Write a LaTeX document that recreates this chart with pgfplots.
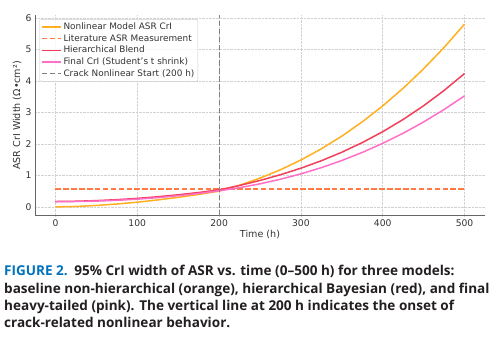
\documentclass[border=0pt]{standalone}
\usepackage{fontspec}
\setmainfont{DejaVu Sans}
\newfontfamily\capfont{Open Sans}
\usepackage{pgfplots}
\pgfplotsset{compat=1.18}
\definecolor{cOrange}{HTML}{FFAF1F}
\definecolor{cCoral}{HTML}{FF7A45}
\definecolor{cRed}{HTML}{F0405A}
\definecolor{cPink}{HTML}{FF6EC7}
\definecolor{cGray}{HTML}{808080}
\definecolor{capblue}{HTML}{0072BC}
\definecolor{captext}{HTML}{231F20}

\pgfplotstableread{
t    nonlin  hier   final
0    0.000   0.170  0.170
25   0.013   0.179  0.171
50   0.045   0.199  0.184
75   0.091   0.229  0.208
100  0.150   0.270  0.245
125  0.221   0.322  0.293
150  0.303   0.384  0.354
175  0.396   0.457  0.426
200  0.500   0.540  0.510
225  0.687   0.680  0.611
250  0.913   0.840  0.733
275  1.180   1.022  0.879
300  1.490   1.230  1.050
325  1.846   1.467  1.248
350  2.249   1.737  1.474
375  2.703   2.044  1.731
400  3.210   2.390  2.020
425  3.772   2.779  2.342
450  4.391   3.215  2.700
475  5.069   3.701  3.095
500  5.810   4.240  3.530
}\crimodels

\begin{document}
\begin{tikzpicture}
\useasboundingbox (0,0) rectangle (500pt,342pt);
\begin{axis}[
  at={(35pt,126pt)}, anchor=south west,
  scale only axis, width=450pt, height=201pt,
  xmin=-25, xmax=525, ymin=-0.29, ymax=6.1,
  xtick={0,100,...,500}, ytick={0,1,...,6},
  axis lines=left, axis line style={-, black!60, line width=1pt},
  major tick length=0pt,
  grid=major, grid style={densely dotted, black!18, line width=0.6pt},
  /pgf/number format/assume math mode=true,
  tick label style={font=\fontsize{9.2}{11}\selectfont, text=black!80},
  xlabel={Time (h)}, ylabel={ASR CrI Width (Ω•cm²)},
  every axis x label/.style={at={(axis description cs:0.5,-0.1045)}, anchor=base,
    font=\fontsize{9.6}{11}\selectfont, text=black!80},
  every axis y label/.style={at={(axis description cs:-0.04,0.5)}, rotate=90, anchor=center,
    font=\fontsize{9.6}{11}\selectfont, text=black!80},
  legend cell align=left,
  legend style={at={(0.0096,0.979)}, anchor=north west, draw=black!20, rounded corners=2pt,
    fill=white, fill opacity=0.8, text opacity=1, font=\fontsize{8.9}{10}\selectfont,
    text=black!80, row sep=-0.6pt, inner sep=1.5pt},
  legend image code/.code={\draw[#1] (0pt,0pt) -- (19pt,0pt);},
]
\addplot[cOrange, line width=1.5pt] table[x=t, y=nonlin] {\crimodels};
\addlegendentry{Nonlinear Model ASR CrI}
\addplot[cCoral, line width=1.3pt, dash pattern=on 5.5pt off 2.4pt] coordinates {(0,0.57) (500,0.57)};
\addlegendentry{Literature ASR Measurement}
\addplot[cRed, line width=1.5pt] table[x=t, y=hier] {\crimodels};
\addlegendentry{Hierarchical Blend}
\addplot[cPink, line width=1.5pt] table[x=t, y=final] {\crimodels};
\addlegendentry{Final CrI (Student's t shrink)}
\addplot[cGray, line width=1.1pt, dash pattern=on 5.5pt off 2.4pt] coordinates {(200,-0.29) (200,6.1)};
\addlegendentry{Crack Nonlinear Start (200 h)}
\end{axis}
\begin{scope}[every node/.style={anchor=base west, inner sep=0pt, text=captext,
  font=\capfont\bfseries\fontsize{13.55}{16}\selectfont}]
\node at (4pt,66pt) {\textcolor{capblue}{FIGURE 2.}\hspace{6.5pt}95\% CrI width of ASR vs. time (0–500 h) for three models:};
\node at (4pt,48.8pt) {baseline non-hierarchical (orange), hierarchical Bayesian (red), and final};
\node at (4pt,31.5pt) {heavy-tailed (pink). The vertical line at 200 h indicates the onset of};
\node at (4pt,14.3pt) {crack-related nonlinear behavior.};
\end{scope}
\end{tikzpicture}
\end{document}
